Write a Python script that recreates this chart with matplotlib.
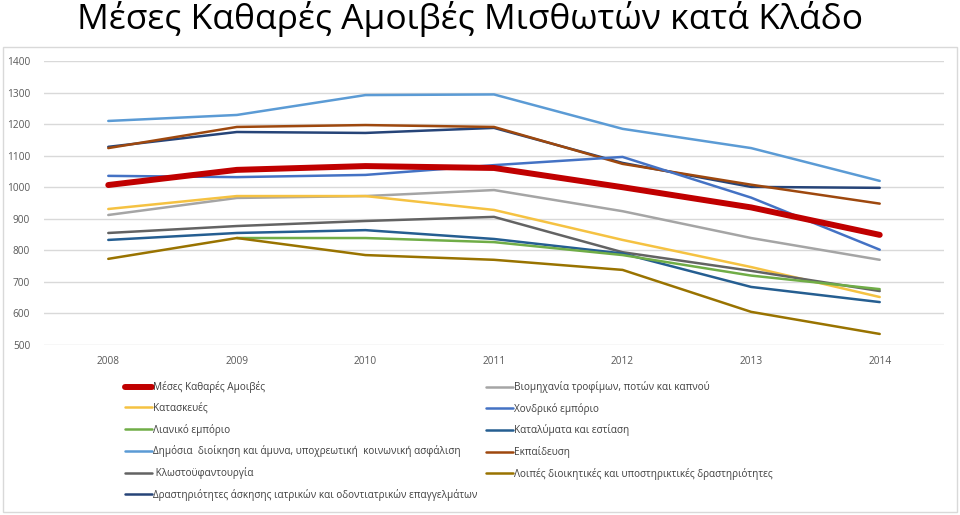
import matplotlib.pyplot as plt
from matplotlib.patches import Rectangle

plt.rcParams['font.family'] = ['Open Sans', 'DejaVu Sans']

years = [2008, 2009, 2010, 2011, 2012, 2013, 2014]

# average net pay per sector
mean_pay = [1007, 1055, 1067, 1061, 1000, 936, 849]
food = [912, 966, 972, 991, 924, 839, 770]
construction = [931, 972, 972, 928, 833, 747, 652]
wholesale = [1036, 1032, 1039, 1070, 1096, 967, 802]
retail = [None, 839, 839, 826, 785, 720, 677]
accommodation = [833, 855, 864, 836, 790, 684, 636]
public_admin = [1210, 1229, 1292, 1294, 1185, 1124, 1020]
education = [1124, 1191, 1197, 1191, 1074, 1008, 948]
textile = [855, 877, 893, 906, 794, 735, 671]
other_admin = [773, 839, 785, 770, 738, 605, 535]
medical = [1128, 1175, 1172, 1188, 1077, 1001, 998]

left_col = [
    ('Μέσες Καθαρές Αμοιβές', mean_pay, '#C00000', 4.3),
    ('Κατασκευές', construction, '#F5C242', 1.8),
    ('Λιανικό εμπόριο', retail, '#70AD47', 1.8),
    ('Δημόσια  διοίκηση και άμυνα, υποχρεωτική  κοινωνική ασφάλιση', public_admin, '#5B9BD5', 1.8),
    (' Κλωστοϋφαντουργία', textile, '#636363', 1.8),
    ('Δραστηριότητες άσκησης ιατρικών και οδοντιατρικών επαγγελμάτων', medical, '#264478', 1.8),
]
right_col = [
    ('Βιομηχανία τροφίμων, ποτών και καπνού', food, '#A5A5A5', 1.8),
    ('Χονδρικό εμπόριο', wholesale, '#4472C4', 1.8),
    ('Καταλύματα και εστίαση', accommodation, '#255E91', 1.8),
    ('Εκπαίδευση', education, '#9E480E', 1.8),
    ('Λοιπές διοικητικές και υποστηρικτικές δραστηριότητες', other_admin, '#997300', 1.8),
]

fig = plt.figure(figsize=(9.6, 5.15), dpi=100)
ax = fig.add_axes([44 / 960, 1 - 345 / 515, 900 / 960, 284 / 515])

# chart frame
fig.patches.append(Rectangle((3 / 960, 3 / 515), 954 / 960, 465 / 515,
                             transform=fig.transFigure, fill=False,
                             edgecolor='#D9D9D9', linewidth=1))

draw_order = [left_col[3], left_col[5], right_col[3], right_col[1], right_col[0],
              left_col[1], left_col[4], right_col[2], left_col[2], right_col[4], left_col[0]]
handles = {}
for label, vals, color, lw in draw_order:
    xs = [y for y, v in zip(years, vals) if v is not None]
    vs = [v for v in vals if v is not None]
    line, = ax.plot(xs, vs, color=color, linewidth=lw, solid_capstyle='round', label=label)
    handles[label] = line

ax.set_xlim(2007.5, 2014.5)
ax.set_ylim(500, 1400)
ax.set_yticks(range(500, 1401, 100))
ax.set_xticks(years)
ax.grid(axis='y', color='#D9D9D9', linewidth=1)
ax.set_axisbelow(True)
for s in ax.spines.values():
    s.set_visible(False)
ax.tick_params(length=0, labelsize=7.3, colors='#595959', pad=8)
ax.tick_params(axis='y', pad=10)

legend_kw = dict(loc='upper left', bbox_transform=fig.transFigure, frameon=False,
                 fontsize=7.2, handlelength=2.7, handletextpad=0.1,
                 labelspacing=0.97, labelcolor='#404040')
leg1 = ax.legend([handles[l[0]] for l in left_col], [l[0] for l in left_col],
                 bbox_to_anchor=(116 / 960, 1 - 372 / 515), **legend_kw)
ax.add_artist(leg1)
ax.legend([handles[l[0]] for l in right_col], [l[0] for l in right_col],
          bbox_to_anchor=(477 / 960, 1 - 372 / 515), **legend_kw)

fig.text(0.49, 1 - 1 / 515, 'Μέσες Καθαρές Αμοιβές Μισθωτών κατά Κλάδο',
         ha='center', va='top', fontsize=25.5, color='black')

fig.savefig('out.png', dpi=100)
